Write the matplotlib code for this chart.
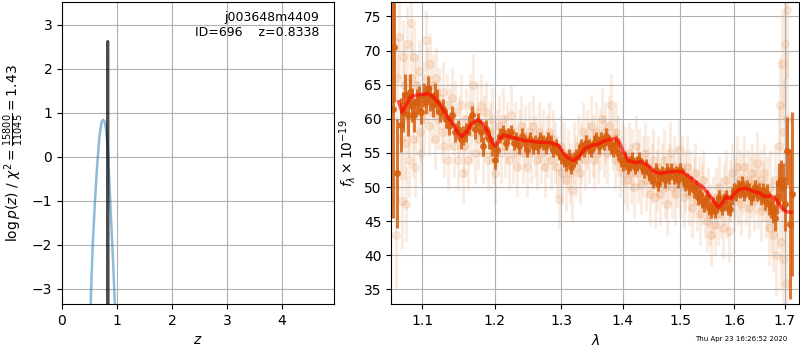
import matplotlib
matplotlib.use('Agg')
import matplotlib.pyplot as plt
from matplotlib.ticker import FixedLocator, ScalarFormatter, NullLocator

# 红移概率分布 p(z)
pz_z = [0.50, 0.53, 0.56, 0.60, 0.64, 0.68, 0.72, 0.75, 0.78, 0.81, 0.84, 0.87, 0.90, 0.93, 0.96, 1.00]
pz_logp = [-4.5, -3.0, -2.0, -1.0, -0.2, 0.45, 0.78, 0.84, 0.78, 0.55, 0.05, -0.8, -1.6, -2.4, -3.3, -4.5]
zoom_z = [0.825, 0.829, 0.832, 0.8338, 0.836, 0.839, 0.843]
zoom_logp = [-5.0, -1.0, 1.5, 2.62, 1.5, -1.0, -5.0]

# 模型曲线
model_wave = [1.0696, 1.0738, 1.0781, 1.0847, 1.0934, 1.1021, 1.1087, 1.1153, 1.1242, 1.1332,
              1.1421, 1.1489, 1.1535, 1.1604, 1.1672, 1.1764, 1.1833, 1.1903, 1.1964, 1.2011,
              1.2067, 1.2138, 1.2256, 1.2400, 1.2635, 1.2836, 1.2962, 1.3039, 1.3117, 1.3195,
              1.3274, 1.3380, 1.3486, 1.3594, 1.3703, 1.3839, 1.3922, 1.4005, 1.4088, 1.4201,
              1.4313, 1.4427, 1.4543, 1.4630, 1.4776, 1.4924, 1.5044, 1.5165, 1.5287, 1.5410,
              1.5534, 1.5628, 1.5704, 1.5785, 1.5849, 1.5925, 1.6010, 1.6107, 1.6236, 1.6368,
              1.6501, 1.6600, 1.6733, 1.6834, 1.6936, 1.7038, 1.7140]
model_flux = [62.5, 61.0, 61.8, 63.2, 63.5, 63.6, 63.7, 63.2, 62.0, 60.5,
              59.1, 57.9, 57.4, 58.1, 59.3, 59.9, 59.3, 58.1, 56.6, 56.0,
              57.1, 57.6, 57.3, 56.9, 56.6, 56.5, 56.1, 54.9, 54.2, 53.9,
              54.4, 55.7, 56.1, 56.3, 56.8, 57.1, 56.9, 55.2, 53.9, 53.6,
              53.7, 53.2, 52.2, 52.0, 52.2, 52.3, 52.2, 51.5, 50.7, 50.0,
              48.8, 47.8, 47.0, 47.8, 48.6, 48.2, 49.1, 49.7, 49.8, 49.4,
              49.1, 48.6, 48.7, 48.1, 47.0, 46.4, 46.3]

# 合并后的光谱 (深色点)
bin_wave = [1.062, 1.064, 1.068, 1.072, 1.075, 1.078, 1.081, 1.084, 1.087, 1.090,
            1.093, 1.096, 1.099, 1.102, 1.105, 1.108, 1.111, 1.114, 1.117, 1.120,
            1.124, 1.128, 1.132, 1.136, 1.140, 1.144, 1.148, 1.152, 1.156, 1.160,
            1.164, 1.168, 1.172, 1.176, 1.180, 1.184, 1.188, 1.192, 1.196, 1.200,
            1.204, 1.208, 1.212, 1.216, 1.220, 1.224, 1.228, 1.232, 1.236, 1.240,
            1.244, 1.248, 1.252, 1.256, 1.260, 1.264, 1.268, 1.272, 1.276, 1.280,
            1.284, 1.288, 1.292, 1.296, 1.300, 1.304, 1.308, 1.312, 1.316, 1.320,
            1.324, 1.328, 1.332, 1.336, 1.340, 1.344, 1.348, 1.352, 1.356, 1.360,
            1.364, 1.368, 1.372, 1.376, 1.380, 1.384, 1.388, 1.392, 1.396, 1.400,
            1.404, 1.408, 1.412, 1.416, 1.420, 1.424, 1.428, 1.432, 1.436, 1.440,
            1.444, 1.448, 1.452, 1.456, 1.460, 1.464, 1.468, 1.472, 1.476, 1.480,
            1.484, 1.488, 1.492, 1.496, 1.500, 1.504, 1.508, 1.512, 1.516, 1.520,
            1.524, 1.528, 1.532, 1.536, 1.540, 1.544, 1.548, 1.552, 1.556, 1.560,
            1.564, 1.568, 1.572, 1.576, 1.580, 1.584, 1.588, 1.592, 1.596, 1.600,
            1.604, 1.608, 1.612, 1.616, 1.620, 1.624, 1.628, 1.632, 1.636, 1.640,
            1.644, 1.648, 1.652, 1.656, 1.660, 1.664, 1.668, 1.672, 1.676, 1.680,
            1.684, 1.688, 1.692, 1.696, 1.700, 1.7053, 1.7104, 1.7158]
bin_flux = [61.5, 70.5, 52.0, 59.1, 61.0, 63.5, 60.5, 64.0, 62.0, 60.5,
            62.5, 63.0, 61.0, 63.5, 62.5, 64.5, 63.0, 62.0, 63.5, 62.5,
            61.0, 61.5, 60.0, 59.0, 60.5, 58.0, 58.5, 57.0, 57.5, 58.0,
            59.0, 60.5, 58.5, 59.5, 58.0, 56.0, 58.5, 57.0, 56.0, 54.0,
            55.5, 57.5, 58.0, 56.5, 57.5, 58.0, 56.5, 57.0, 56.0, 57.5,
            56.5, 55.5, 57.0, 56.0, 56.5, 56.0, 57.0, 56.5, 56.0, 57.0,
            56.5, 55.5, 56.0, 55.0, 54.5, 54.0, 53.5, 54.5, 53.0, 54.0,
            54.5, 55.0, 56.0, 55.5, 56.5, 56.0, 55.5, 56.5, 57.0, 56.0,
            57.0, 56.5, 57.5, 56.5, 56.0, 55.5, 56.5, 55.0, 54.0, 53.5,
            54.0, 53.0, 53.5, 54.0, 53.0, 53.5, 54.0, 53.0, 52.5, 53.0,
            52.0, 51.5, 51.0, 52.5, 50.5, 51.5, 52.0, 51.0, 52.5, 51.5,
            52.5, 51.5, 52.0, 51.0, 52.5, 51.5, 50.5, 51.0, 50.0, 50.5,
            49.5, 50.0, 48.5, 49.0, 48.0, 47.5, 48.5, 47.0, 46.5, 47.5,
            46.5, 47.5, 48.5, 47.0, 48.0, 48.5, 47.0, 46.8, 48.5, 49.5,
            49.0, 50.0, 49.5, 50.5, 49.0, 50.0, 49.5, 48.5, 49.0, 50.0,
            49.0, 49.5, 48.5, 49.5, 48.0, 49.0, 47.5, 47.0, 46.5, 45.5,
            48.5, 50.5, 51.0, 50.0, 47.5, 55.3, 44.6, 49.0]
bin_err = [16, 8, 8, 4, 3, 3, 3, 2.5, 2.5, 2.5] + [1.8] * 10 + [1.4] * 20 + [1.1] * 114 + \
          [1.4, 1.4, 1.6, 1.6, 1.8, 2, 2.5, 3, 3, 3.5, 4, 5, 11, 12]

# 单次曝光 (浅色点)
exp_wave = [1.066, 1.068, 1.070, 1.072, 1.074, 1.075, 1.077, 1.078, 1.079, 1.080,
            1.082, 1.083, 1.085, 1.086, 1.088, 1.089, 1.091, 1.092, 1.094, 1.096,
            1.097, 1.099, 1.101, 1.103, 1.105, 1.107, 1.109, 1.111, 1.113, 1.115,
            1.117, 1.119, 1.121, 1.123, 1.126, 1.128, 1.130, 1.133, 1.135, 1.138,
            1.140, 1.143, 1.145, 1.148, 1.150, 1.152, 1.155, 1.157, 1.160, 1.162,
            1.165, 1.167, 1.170, 1.172, 1.175, 1.177, 1.180, 1.183, 1.185, 1.188,
            1.190, 1.193, 1.196, 1.198, 1.201, 1.204, 1.206, 1.209, 1.212, 1.215,
            1.218, 1.221, 1.224, 1.227, 1.230, 1.233, 1.236, 1.239, 1.242, 1.245,
            1.248, 1.251, 1.254, 1.257, 1.260, 1.263, 1.266, 1.269, 1.272, 1.275,
            1.278, 1.281, 1.284, 1.287, 1.290, 1.293, 1.296, 1.299, 1.302, 1.305,
            1.308, 1.311, 1.314, 1.317, 1.320, 1.323, 1.326, 1.329, 1.332, 1.335,
            1.338, 1.341, 1.344, 1.347, 1.350, 1.353, 1.356, 1.359, 1.362, 1.365,
            1.368, 1.371, 1.374, 1.377, 1.380, 1.383, 1.386, 1.389, 1.392, 1.395,
            1.398, 1.401, 1.404, 1.407, 1.410, 1.413, 1.416, 1.419, 1.422, 1.425,
            1.428, 1.431, 1.434, 1.437, 1.440, 1.443, 1.446, 1.449, 1.452, 1.455,
            1.458, 1.461, 1.464, 1.467, 1.470, 1.473, 1.476, 1.479, 1.482, 1.485,
            1.488, 1.491, 1.494, 1.497, 1.500, 1.503, 1.506, 1.509, 1.512, 1.515,
            1.518, 1.521, 1.524, 1.527, 1.530, 1.533, 1.536, 1.539, 1.542, 1.545,
            1.548, 1.551, 1.554, 1.557, 1.560, 1.563, 1.566, 1.569, 1.572, 1.575,
            1.578, 1.581, 1.584, 1.587, 1.590, 1.593, 1.596, 1.599, 1.602, 1.605,
            1.608, 1.611, 1.614, 1.617, 1.620, 1.623, 1.626, 1.629, 1.632, 1.635,
            1.638, 1.641, 1.644, 1.647, 1.650, 1.653, 1.656, 1.659, 1.662, 1.665,
            1.668, 1.671, 1.674, 1.677, 1.680, 1.683, 1.686, 1.689, 1.691, 1.693,
            1.695, 1.697, 1.699, 1.701, 1.702, 1.704, 1.705]
exp_flux = [43.0, 66, 72, 57, 48, 69, 65, 56.5, 47.5, 71,
            60, 54, 74, 66, 57, 69, 53, 65, 61, 67,
            58, 55, 64, 60, 71.5, 66, 59, 68, 61, 65,
            57, 66, 60, 63, 58, 64, 56, 62, 54, 60,
            63, 56, 61, 54, 59, 62, 52, 56, 60, 54,
            62, 58, 65, 55, 61, 57, 62, 55, 59, 61,
            54, 58, 60, 55, 52, 57, 59, 55, 60, 56,
            58, 54, 60.5, 55, 58, 53, 57, 59, 55, 57.5,
            53, 58, 55, 59, 56, 54, 58, 55, 57, 53,
            56, 58, 54, 57, 55, 53, 48.3, 56, 52, 55,
            51, 54, 52, 49.5, 55, 53, 56, 52, 55, 58,
            54, 57, 55, 59, 56, 54, 58, 55, 57, 60,
            56, 58, 55, 59, 62, 57, 54, 58, 56, 53,
            55, 52, 54.5, 51, 55, 52, 54, 50, 56, 52,
            54, 50.5, 53, 55, 51, 53, 49, 52, 54, 48.5,
            51, 53, 49, 52, 54, 50, 47.5, 52, 55, 50,
            53, 49, 51.5, 55.5, 50, 53, 48.5, 51, 53, 49,
            51, 47, 50, 52, 48, 50, 46, 49, 51, 47,
            45, 48.5, 46, 43, 47, 44.5, 48.5, 46, 50, 47,
            44, 49, 51, 47, 43.5, 49.5, 52, 48, 50, 53,
            49, 51, 47.5, 50.5, 53, 49, 51, 47, 50, 52,
            48, 50.5, 53.5, 48.5, 51, 46.5, 49.5, 52, 47, 49,
            44, 50, 46, 43, 51, 40, 47, 56, 62, 42,
            68, 39.5, 58, 71, 36, 76, 60]
exp_err = [8, 6, 6, 6, 7] + [5.5] * 10 + [4.5] * 204 + [5.5] * 6 + [6, 6, 6, 7, 7, 8, 8, 8, 9, 9, 10, 10]

orange = '#e5813a'
dark = '#d6600f'

fig = plt.figure(figsize=(8, 3.5), dpi=100)

# 左图: p(z)
ax = fig.add_axes([0.0775, 0.131, 0.34, 0.863])
ax.plot(pz_z, pz_logp, color='tab:blue', alpha=0.5, lw=1.8)
ax.plot(zoom_z, zoom_logp, color='k', alpha=0.7, lw=2)
ax.set_xlim(0, 4.95)
ax.set_ylim(-3.35, 3.51)
ax.set_xticks([0, 1, 2, 3, 4])
ax.set_yticks([-3, -2, -1, 0, 1, 2, 3])
ax.grid()
ax.set_xlabel(r'$z$')
ax.set_ylabel(r'$\log p(z)$' + ' / ' + r'$\chi^2=\frac{15800}{11045}=1.43$', fontsize=10)
ax.text(0.945, 0.97, 'j003648m4409\nID=696    z=0.8338', ha='right', va='top',
        transform=ax.transAxes, fontsize=9)

# 右图: 光谱
bx = fig.add_axes([0.489, 0.131, 0.51, 0.863])
bx.errorbar(exp_wave, exp_flux, yerr=exp_err, color=orange, alpha=0.15, marker='o',
            markersize=5.5, linestyle='None', elinewidth=2.2, zorder=1)
bx.errorbar(bin_wave, bin_flux, yerr=bin_err, color=dark, alpha=0.85, marker='o',
            markersize=4, linestyle='None', elinewidth=2.2, zorder=2)
bx.plot(model_wave, model_flux, color='r', alpha=0.65, lw=2.5, zorder=3,
        solid_joinstyle='round')
bx.set_xscale('log')
bx.set_xlim(1.06, 1.73)
bx.set_ylim(32.85, 77.1)
bx.xaxis.set_major_locator(FixedLocator([1.1, 1.2, 1.3, 1.4, 1.5, 1.6, 1.7]))
bx.xaxis.set_major_formatter(ScalarFormatter())
bx.xaxis.set_minor_locator(NullLocator())
bx.set_yticks([35, 40, 45, 50, 55, 60, 65, 70, 75])
bx.grid()
bx.set_xlabel(r'$\lambda$')
bx.set_ylabel(r'$f_\lambda\times 10^{-19}$')

fig.text(0.984, 0.031, 'Thu Apr 23 16:26:52 2020', ha='right', va='center', fontsize=5)

fig.savefig('out.png', dpi=100)
